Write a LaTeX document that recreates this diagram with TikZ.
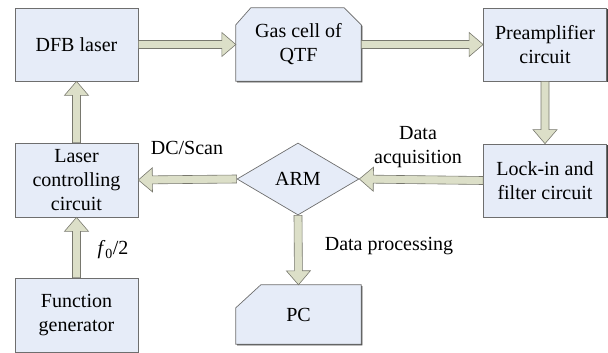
\documentclass[tikz,border=0pt]{standalone}
\usepackage{fontspec}
\setmainfont{Liberation Serif}
\usetikzlibrary{calc,shapes.geometric,shadows,backgrounds}
\definecolor{boxfill}{RGB}{230,236,248}
\definecolor{boxline}{RGB}{110,110,110}
\definecolor{arrowfill}{RGB}{220,223,200}
\definecolor{arrowline}{RGB}{120,120,110}
\tikzset{
  box/.style={draw=boxline, fill=boxfill, line width=0.7pt, align=center,
    inner sep=0pt, minimum width=123pt, minimum height=73pt,
    drop shadow={shadow xshift=1.2pt, shadow yshift=-1.2pt, fill=black!75, opacity=1}},
  plainbox/.style={align=center, inner sep=0pt, minimum width=125pt, minimum height=73pt},
  snipline/.style={draw=boxline, fill=boxfill, line width=0.7pt,
    preaction={fill=black!75, transform canvas={shift={(1.2pt,-1.2pt)}}}},
  fatarrow/.style={draw=arrowline, fill=arrowfill, line width=0.6pt, line join=miter},
  lbl/.style={align=center}
}
% block arrow between two anchors
\newcommand\fatarrow[2]{%
  \coordinate (fa-s) at (#1);
  \coordinate (fa-e) at (#2);
  \coordinate (fa-h) at ($(fa-e)!14pt!(fa-s)$);
  \draw[fatarrow] ($(fa-s)!4pt!90:(fa-e)$) -- ($(fa-h)!4pt!90:(fa-e)$)
    -- ($(fa-h)!12pt!90:(fa-e)$) -- (fa-e) -- ($(fa-h)!12pt!-90:(fa-e)$)
    -- ($(fa-h)!4pt!-90:(fa-e)$) -- ($(fa-s)!4pt!-90:(fa-e)$) -- cycle;}
\begin{document}
\begin{tikzpicture}[x=1pt, y=-1pt, font=\fontsize{20}{24}\selectfont]
  \useasboundingbox (0,0) rectangle (608,353);
  % top row
  \node[box] (dfb) at (76.5,44.5) {DFB laser};
  \node[plainbox] (gas) at (298.5,44.5) {Gas cell of\\QTF};
  \node[box] (pre) at (545,44.5) {Preamplifier\\circuit};
  % middle row
  \node[box, minimum height=74pt] (ctrl) at (76.5,180) {Laser\\controlling\\circuit};
  \node[diamond, draw=boxline, fill=boxfill, line width=0.7pt, inner sep=0pt,
    minimum width=122pt, minimum height=72pt] (arm) at (298,179) {ARM};
  \node[box] (lock) at (545,180.5) {Lock-in and\\filter circuit};
  % bottom row
  \node[box, minimum height=74pt] (func) at (76.5,315) {Function\\generator};
  \node[plainbox, minimum height=59pt] (pc) at (298.5,314.5) {PC};
  % snipped outlines behind the texts
  \begin{scope}[on background layer]
    \draw[snipline] (gas.south west) -- ($(gas.north west)+(0,17)$)
      -- ($(gas.north west)+(15,0)$) -- ($(gas.north east)+(-17,0)$)
      -- ($(gas.north east)+(0,17)$) -- (gas.south east) -- cycle;
    \draw[snipline] (pc.south west) -- ($(pc.north west)+(0,23)$)
      -- ($(pc.north west)+(25,0)$) -- (pc.north east) -- (pc.south east) -- cycle;
  \end{scope}
  % connectors
  \fatarrow{dfb.east}{gas.west}
  \fatarrow{gas.east}{pre.west}
  \fatarrow{pre.south}{lock.north}
  \fatarrow{lock.west}{arm.east}
  \fatarrow{arm.west}{ctrl.east}
  \fatarrow{arm.south}{pc.north}
  \fatarrow{func.north}{ctrl.south}
  \fatarrow{ctrl.north}{dfb.south}
  % labels
  \node[lbl] (dcscan) at (187,148) {DC/Scan};
  \node[lbl] (acq) at (418,147) {Data\\acquisition};
  \node[lbl] (proc) at (389,246) {Data processing};
  \node[lbl] (freq) at (113,250) {\textit{f}\textsubscript{0}/2};
\end{tikzpicture}
\end{document}
